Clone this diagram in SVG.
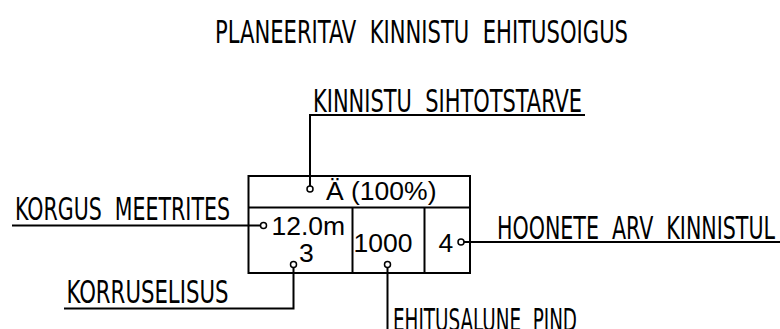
<svg xmlns="http://www.w3.org/2000/svg" width="780" height="329" viewBox="0 0 780 329">
<style>
.cad{font-family:"Liberation Sans Narrow","DejaVu Sans Condensed",sans-serif;font-size:32px;fill:#000;white-space:pre}
.cell{font-family:"Liberation Sans",Arial,sans-serif;font-size:26.5px;fill:#000}
.ln{stroke:#000;stroke-width:2;fill:none}
.dot{stroke:#000;stroke-width:1.5;fill:#fff}
</style>
<rect width="780" height="329" fill="#fff"/>
<text class="cad" x="215" y="42.5" textLength="413" lengthAdjust="spacingAndGlyphs" xml:space="preserve">PLANEERITAV  KINNISTU  EHITUSOIGUS</text>
<g id="table">
<rect class="ln" x="248.5" y="176" width="221.5" height="97"/>
<line class="ln" x1="248.5" y1="207.5" x2="470" y2="207.5"/>
<line class="ln" x1="352.5" y1="207.5" x2="352.5" y2="273"/>
<line class="ln" x1="424.5" y1="207.5" x2="424.5" y2="273"/>
<text class="cell" x="326" y="200">Ä (100%)</text>
<text class="cell" x="271.5" y="234.5">12.0m</text>
<text class="cell" x="299" y="262">3</text>
<text class="cell" x="353.5" y="252">1000</text>
<text class="cell" x="438.5" y="252">4</text>
</g>
<g id="connectors">
<polyline class="ln" points="310,186 310,115 585,115"/>
<line class="ln" x1="12" y1="225.5" x2="260.5" y2="225.5"/>
<polyline class="ln" points="293.5,267.5 293.5,308.5 64,308.5"/>
<line class="ln" x1="387.5" y1="267.5" x2="387.5" y2="329"/>
<line class="ln" x1="464" y1="242" x2="780" y2="242"/>
<circle class="dot" cx="310" cy="189" r="3"/>
<circle class="dot" cx="263.5" cy="225.5" r="3"/>
<circle class="dot" cx="293.5" cy="264.5" r="3"/>
<circle class="dot" cx="387.5" cy="264.5" r="3"/>
<circle class="dot" cx="461" cy="242" r="3"/>
</g>
<g id="label-sihtotstarve"><text class="cad" x="313" y="111.5" textLength="269" lengthAdjust="spacingAndGlyphs" xml:space="preserve">KINNISTU  SIHTOTSTARVE</text></g>
<g id="label-korgus"><text class="cad" x="15" y="219.5" textLength="215" lengthAdjust="spacingAndGlyphs" xml:space="preserve">KORGUS  MEETRITES</text></g>
<g id="label-korruselisus"><text class="cad" x="66.5" y="303" textLength="162" lengthAdjust="spacingAndGlyphs">KORRUSELISUS</text></g>
<g id="label-hoonete"><text class="cad" x="497" y="238.5" textLength="278" lengthAdjust="spacingAndGlyphs" xml:space="preserve">HOONETE  ARV  KINNISTUL</text></g>
<g id="label-ehitusalune"><text class="cad" x="393" y="330.5" textLength="184" lengthAdjust="spacingAndGlyphs" xml:space="preserve">EHITUSALUNE  PIND</text></g>
</svg>
